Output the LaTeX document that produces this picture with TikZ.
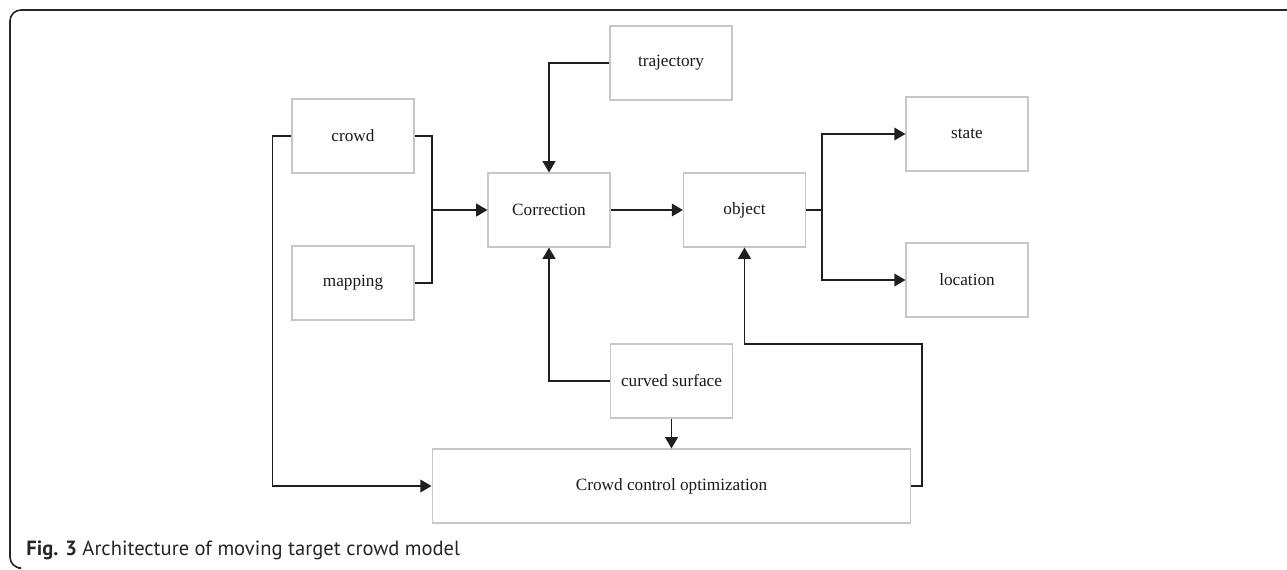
\documentclass[tikz,border=0pt]{standalone}
\usepackage{fontspec}
\setmainfont{Liberation Serif}
\newfontfamily\capfont{PT Sans}
\usetikzlibrary{arrows.meta}

\begin{document}
\begin{tikzpicture}[x=0.02cm,y=-0.02cm]
	\tikzset{block/.style = {shape=rectangle, draw=black!22, line width=0.6pt, fill=white, minimum width=2.44cm, minimum height=1.48cm, inner sep=0pt, text=black!90, font=\fontsize{9.8}{12}\selectfont},
		link/.style = {line width=1.05pt, draw=black!88},
		tip/.style = {link, -{Triangle[length=6.4pt,width=7.2pt]}}}

	\useasboundingbox (0,0) rectangle (1287,569);
	\draw[line width=0.9pt, black!85, rounded corners=0.22cm] (1287,10) -- (10,10) -- (10,568) -- (18,568);

	\node[block] (crowd) at (353,136) {crowd};
	\node[block] (mapping) at (353,283) {mapping};
	\node[block] (correction) at (549,210) {Correction};
	\node[block] (trajectory) at (671,63) {trajectory};
	\node[block] (object) at (744.5,210) {object};
	\node[block] (state) at (967,134) {state};
	\node[block] (location) at (967,280) {location};
	\node[block] (curved) at (671.5,381) {curved surface};
	\node[block, minimum width=9.58cm] (cco) at (671.5,486) {Crowd control optimization};

	\coordinate (join) at (432,210);
	\coordinate (split) at (822,210);
	\coordinate (loop) at (922,344);

	\draw[tip] (crowd.west) -- ++(-19,0) |- (cco.west);
	\draw[link] (crowd.east) -| (join) |- (mapping.east);
	\draw[tip] (join) -- (correction.west);
	\draw[tip] (trajectory.west) -| (correction.north);
	\draw[tip] (correction) -- (object);
	\draw[link] (object.east) -- (split);
	\draw[tip] (split) |- (state.west);
	\draw[tip] (split) |- (location.west);
	\draw[tip] (curved.west) -| (correction.south);
	\draw[tip] (curved.south) -- (cco.north);
	\draw[tip] (cco.east) -| (loop) -| (object.south);

	\node[anchor=base west, inner sep=0pt, text=black!85, font=\capfont\fontsize{11.7}{14}\selectfont] (caption) at (26,555) {\textbf{Fig. 3} Architecture of moving target crowd model};

\end{tikzpicture}
\end{document}
